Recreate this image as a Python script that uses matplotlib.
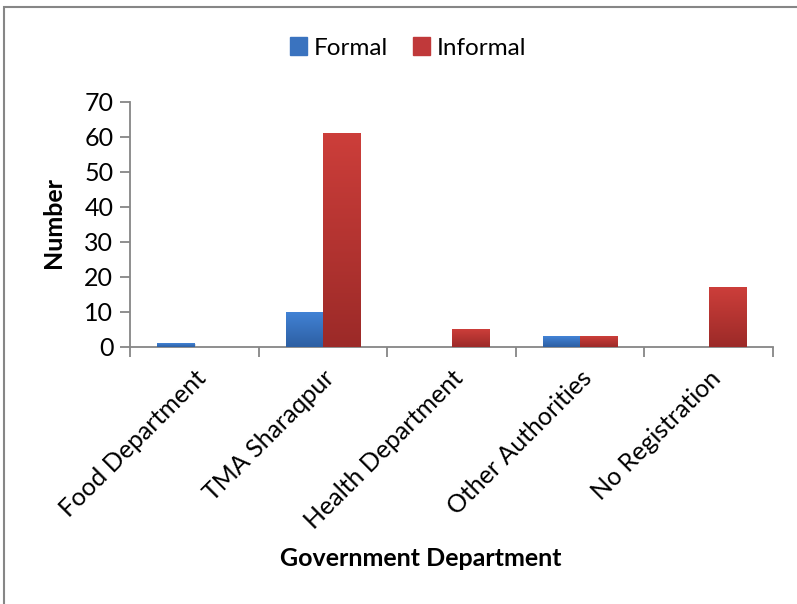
#!/usr/bin/env python3
"""
Registration of units by government department, formal vs informal
"""

import matplotlib.pyplot as plt
import matplotlib.patches as mpatches
import numpy as np

plt.rcParams['font.family'] = ['Lato', 'DejaVu Sans']

departments = ['Food Department', 'TMA Sharaqpur', 'Health Department',
               'Other Authorities', 'No Registration']
formal = [1, 10, 0, 3, 0]
informal = [0, 61, 5, 3, 17]
y_ticks = [0, 10, 20, 30, 40, 50, 60, 70]

GRAY = '#868686'
BLUE_TOP, BLUE_BOT = '#4283d6', '#2d5fa3'
RED_TOP, RED_BOT = '#cc3e3a', '#9c2a28'
FS = 18


def hex_rgb(c):
    c = c.lstrip('#')
    return np.array([int(c[i:i + 2], 16) / 255 for i in (0, 2, 4)])


def gradient_bars(ax, x, heights, width, top, bottom):
    """Bars with a vertical top-to-bottom colour gradient"""
    t, b = hex_rgb(top), hex_rgb(bottom)
    grad = np.linspace(0, 1, 64)[:, None]
    img = (t * (1 - grad) + b * grad)[:, None, :].repeat(2, axis=1)
    bars = ax.bar(x, heights, width, align='edge', color='none',
                  edgecolor='none', zorder=3)
    for bar in bars:
        h = bar.get_height()
        if h <= 0:
            continue
        x0 = bar.get_x()
        # soft shadow to the lower right
        ax.add_patch(mpatches.Rectangle((x0 + 0.01, -0.2), width, h,
                                        color='#000000', alpha=0.12,
                                        lw=0, zorder=2))
        im = ax.imshow(img, extent=(x0, x0 + width, 0, h), aspect='auto',
                       origin='upper', zorder=3, interpolation='bilinear')
        im.set_clip_path(bar)
    return bars


fig = plt.figure(figsize=(7.97, 6.04), dpi=100)
W, H = 797, 604

# chart area frame
fig.patches.append(mpatches.Rectangle((4 / W, -0.1), 1.2, (H - 7) / H + 0.1,
                                      transform=fig.transFigure, fill=False,
                                      edgecolor=GRAY, lw=1.5))

ax = fig.add_axes([130 / W, (H - 347) / H, (773 - 130) / W, (347 - 101.5) / H])

n = len(departments)
centers = np.arange(n) + 0.5
bw = 0.288
gradient_bars(ax, centers - bw, formal, bw, BLUE_TOP, BLUE_BOT)
gradient_bars(ax, centers, informal, bw, RED_TOP, RED_BOT)

ax.set_xlim(0, n)
ax.set_ylim(0, 70)
ax.set_yticks(y_ticks)
ax.set_xticks(np.arange(n + 1))
ax.set_xticklabels([])
ax.set_xticks(centers, minor=True)
ax.set_xticklabels(departments, minor=True, rotation=45, ha='right',
                   rotation_mode='anchor', fontsize=FS)
ax.tick_params(axis='x', which='minor', length=0, pad=14)
ax.tick_params(axis='both', which='major', length=7, width=1.3,
               color=GRAY, labelsize=FS, direction='out')
ax.tick_params(axis='y', pad=5)

for side in ('top', 'right'):
    ax.spines[side].set_visible(False)
for side in ('left', 'bottom'):
    ax.spines[side].set_color(GRAY)
    ax.spines[side].set_linewidth(1.3)

plot_w, plot_h = 773 - 130, 347 - 101.5
ax.set_ylabel('Number', fontsize=FS, fontweight='bold')
ax.yaxis.set_label_coords(-(130 - 65) / plot_w, (347 - 223) / plot_h)
ax.set_xlabel('Government Department', fontsize=FS, fontweight='bold')
ax.xaxis.set_label_coords((421 - 130) / plot_w, -(547 - 347) / plot_h)

handles = [mpatches.Patch(color='#3a73bf', label='Formal'),
           mpatches.Patch(color='#c0393a', label='Informal')]
fig.legend(handles=handles, loc='center', bbox_to_anchor=(408 / W, (H - 48) / H),
           ncol=2, frameon=False, fontsize=17.5, handlelength=0.7,
           handleheight=0.7, handletextpad=0.3, columnspacing=1.0)

fig.savefig('out.png', dpi=100)
